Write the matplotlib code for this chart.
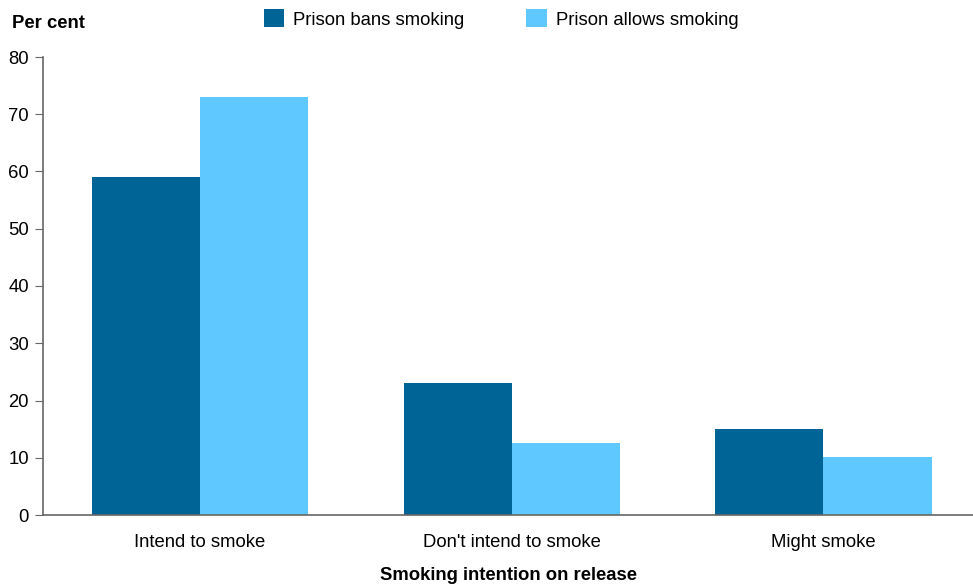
import matplotlib.pyplot as plt
import numpy as np

plt.rcParams["font.family"] = ["Liberation Sans", "DejaVu Sans"]

categories = ["Intend to smoke", "Don't intend to smoke", "Might smoke"]
bans = [59, 23, 15]
allows = [73, 12.6, 10.1]
series_names = ["Prison bans smoking", "Prison allows smoking"]
colors = ["#006496", "#5fc9ff"]

fs = 13.3

fig = plt.figure(figsize=(9.73, 5.87), dpi=100)
ax = fig.add_axes([43 / 973, 1 - 515 / 587, 930 / 973, 458 / 587])

x = np.arange(len(categories))
w = 0.347
ax.bar(x - w / 2, bans, w, color=colors[0], label=series_names[0])
ax.bar(x + w / 2, allows, w, color=colors[1], label=series_names[1])

ax.set_xlim(-0.504, 2.48)
ax.set_ylim(0, 80)
ax.set_yticks(range(0, 81, 10))
ax.set_xticks(x)
ax.set_xticklabels(categories)
ax.tick_params(axis="x", length=0, pad=14, labelsize=fs)
ax.tick_params(axis="y", length=6, color="#666666", labelsize=fs, pad=4)

for s in ["top", "right"]:
    ax.spines[s].set_visible(False)
for s in ["left", "bottom"]:
    ax.spines[s].set_color("#666666")
    ax.spines[s].set_linewidth(1.2)

ax.set_xlabel("Smoking intention on release", fontsize=fs, fontweight="bold", labelpad=11)
fig.text(12 / 973, 1 - 23 / 587, "Per cent", fontsize=fs, fontweight="bold", va="center")

fig.legend(loc="center", bbox_to_anchor=(501 / 973, 1 - 19 / 587), ncol=2, frameon=False,
           fontsize=fs, handlelength=1.1, handleheight=1.1, columnspacing=3.35, handletextpad=0.5)

fig.savefig("out.png", dpi=100)
